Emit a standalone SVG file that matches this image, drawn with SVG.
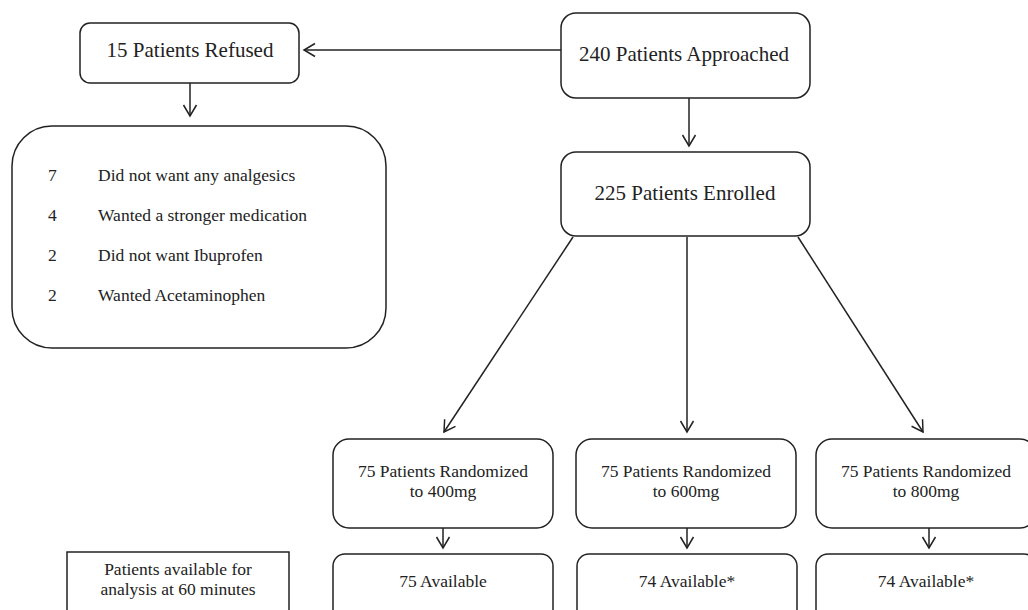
<svg xmlns="http://www.w3.org/2000/svg" width="1028" height="610" viewBox="0 0 1028 610">
<style>
.box{fill:#fff;stroke:#222;stroke-width:1.5}
.t{font-family:"Liberation Serif","Times New Roman",serif;fill:#222}
.big{font-size:21px}
.sm{font-size:17.5px}
.c{text-anchor:middle}
.ln{fill:none;stroke:#222;stroke-width:1.5;marker-end:url(#arr)}
</style>
<defs>
<marker id="arr" markerUnits="userSpaceOnUse" viewBox="-13 -8 15 16" refX="0" refY="0" markerWidth="15" markerHeight="16" orient="auto">
<path d="M-11,-6.5 L0,0 L-11,6.5" fill="none" stroke="#222" stroke-width="1.5"/>
</marker>
</defs>
<rect width="1028" height="610" fill="#fff"/>
<g id="connectors">
<line class="ln" x1="561" y1="50" x2="304" y2="50"/>
<line class="ln" x1="190" y1="83" x2="190" y2="116"/>
<line class="ln" x1="689" y1="98" x2="689" y2="146"/>
<line class="ln" x1="573" y1="237" x2="444" y2="432"/>
<line class="ln" x1="687" y1="237" x2="687" y2="432"/>
<line class="ln" x1="798" y1="237" x2="923" y2="432"/>
<line class="ln" x1="443" y1="528" x2="443" y2="548"/>
<line class="ln" x1="687" y1="528" x2="687" y2="548"/>
<line class="ln" x1="929" y1="528" x2="929" y2="548"/>
</g>
<g id="refused">
<rect class="box" x="80" y="23" width="219" height="60" rx="10"/>
<text class="t big c" x="190" y="57">15 Patients Refused</text>
</g>
<g id="reasons">
<rect class="box" x="12" y="126" width="374" height="222" rx="40"/>
<text class="t sm" x="48" y="181">7</text>
<text class="t sm" x="98" y="181">Did not want any analgesics</text>
<text class="t sm" x="48" y="221">4</text>
<text class="t sm" x="98" y="221">Wanted a stronger medication</text>
<text class="t sm" x="48" y="261">2</text>
<text class="t sm" x="98" y="261">Did not want Ibuprofen</text>
<text class="t sm" x="48" y="301">2</text>
<text class="t sm" x="98" y="301">Wanted Acetaminophen</text>
</g>
<g id="approached">
<rect class="box" x="561" y="13" width="249" height="85" rx="15"/>
<text class="t big c" x="684" y="61">240 Patients Approached</text>
</g>
<g id="enrolled">
<rect class="box" x="561" y="152" width="249" height="84" rx="15"/>
<text class="t big c" x="685" y="200">225 Patients Enrolled</text>
</g>
<g id="r400">
<rect class="box" x="333" y="439" width="220" height="89" rx="16"/>
<text class="t sm c" x="443" y="477">75 Patients Randomized</text>
<text class="t sm c" x="443" y="497">to 400mg</text>
</g>
<g id="r600">
<rect class="box" x="576" y="439" width="220" height="89" rx="16"/>
<text class="t sm c" x="686" y="477">75 Patients Randomized</text>
<text class="t sm c" x="686" y="497">to 600mg</text>
</g>
<g id="r800">
<rect class="box" x="816" y="439" width="220" height="89" rx="16"/>
<text class="t sm c" x="926" y="477">75 Patients Randomized</text>
<text class="t sm c" x="926" y="497">to 800mg</text>
</g>
<g id="legend">
<rect class="box" x="67" y="552" width="222" height="80"/>
<text class="t sm c" x="178" y="575">Patients available for</text>
<text class="t sm c" x="178" y="595">analysis at 60 minutes</text>
</g>
<g id="a400">
<rect class="box" x="333" y="554" width="220" height="80" rx="12"/>
<text class="t sm c" x="443" y="587">75 Available</text>
</g>
<g id="a600">
<rect class="box" x="577" y="554" width="220" height="80" rx="12"/>
<text class="t sm c" x="687" y="587">74 Available*</text>
</g>
<g id="a800">
<rect class="box" x="816" y="554" width="220" height="80" rx="12"/>
<text class="t sm c" x="926" y="587">74 Available*</text>
</g>
</svg>
